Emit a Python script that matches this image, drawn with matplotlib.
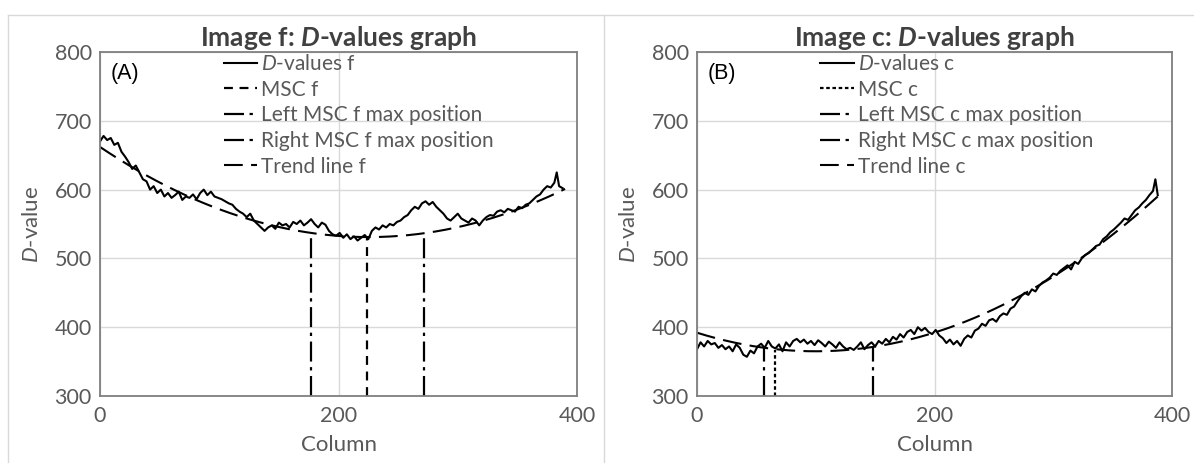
"""Two-panel D-values graph (image f and image c)."""

import matplotlib

matplotlib.use("Agg")
import matplotlib.pyplot as plt
import numpy as np
from matplotlib.lines import Line2D

# ---------------------------------------------------------------- data
# Panel A: image f
cols_f = np.r_[np.arange(0, 382, 3), 383, 385, 388]
dvals_f = [
    670, 678, 672, 675, 665, 668, 655, 648, 640, 630,
    635, 625, 615, 612, 600, 605, 595, 600, 590, 595,
    588, 592, 597, 585, 590, 588, 593, 586, 595, 600,
    592, 597, 590, 588, 586, 583, 580, 578, 572, 568,
    565, 560, 565, 555, 550, 545, 540, 545, 548, 543,
    552, 548, 550, 545, 553, 550, 555, 548, 552, 557,
    550, 545, 552, 549, 540, 535, 533, 537, 530, 535,
    528, 532, 526, 530, 534, 528, 540, 545, 542, 548,
    545, 550, 548, 553, 555, 560, 563, 570, 575, 572,
    580, 583, 578, 582, 575, 570, 565, 558, 555, 560,
    565, 558, 555, 552, 558, 555, 548, 555, 560, 563,
    562, 568, 570, 567, 572, 570, 568, 575, 573, 578,
    580, 585, 590, 593, 600, 605, 603, 610,
    625, 605, 602,
]
# trend line f, read at three columns (start, minimum, end)
trend_cols_f = [0, 225, 390]
trend_vals_f = [662, 531, 601]
msc_f = (224, 531)
left_msc_f = (177, 537)
right_msc_f = (272, 537)

# Panel B: image c
cols_c = np.r_[np.arange(0, 385, 3), 386, 388]
dvals_c = [
    368, 378, 372, 380, 375, 377, 370, 374, 368, 372,
    365, 375, 370, 360, 357, 366, 362, 372, 376, 370,
    380, 372, 369, 375, 365, 378, 372, 380, 383, 378,
    382, 376, 380, 374, 381, 377, 372, 379, 375, 370,
    378, 372, 368, 370, 367, 372, 378, 368, 374, 378,
    372, 380, 376, 383, 378, 386, 382, 390, 385, 393,
    396, 390, 400, 395, 399, 393, 390, 396, 388, 384,
    377, 382, 375, 380, 373, 383, 388, 385, 395, 398,
    405, 402, 410, 412, 408, 416, 420, 418, 427, 430,
    438, 445, 450, 447, 455, 452, 460, 465, 468, 472,
    478, 476, 482, 486, 490, 484, 495, 492, 500, 505,
    508, 513, 518, 520, 528, 532, 538, 542, 547, 552,
    558, 556, 563, 570, 574, 580, 585, 592, 598,
    615, 592,
]
trend_cols_c = [0, 100, 388]
trend_vals_c = [392, 365, 590]
msc_c = (66, 367)
left_msc_c = (56, 371)
right_msc_c = (148, 371)

x_ticks = [0, 200, 400]
y_ticks = [300, 400, 500, 600, 700, 800]

# ---------------------------------------------------------------- style
FONT = "Lato"
plt.rcParams["font.family"] = [FONT, "DejaVu Sans"]
plt.rcParams["mathtext.fontset"] = "custom"
plt.rcParams["mathtext.rm"] = FONT
plt.rcParams["mathtext.it"] = f"{FONT}:italic"
plt.rcParams["mathtext.bf"] = f"{FONT}:bold"
plt.rcParams["mathtext.bfit"] = f"{FONT}:italic:bold"

TXT = "#595959"
TITLE = "#404040"
GRID = "#d9d9d9"
SPINE = "#7f7f7f"

LONG_DASH = (9, 4)
DASH_DOT = (9, 2.5, 1.5, 2.5)


def panel(fig, rect, cols, dvals, trend_c, trend_v, msc, left, right, tag,
          letter, msc_dash):
    ax = fig.add_axes(rect)
    cols = np.asarray(cols)
    dvals = np.asarray(dvals)

    ax.plot(cols, dvals, color="black", lw=1.5, label=r"$\it{D}$-values " + tag)
    ax.plot([msc[0], msc[0]], [300, msc[1]], color="black", lw=1.6,
            dashes=msc_dash, label=f"MSC {tag}")
    ax.plot([left[0], left[0]], [300, left[1]], color="black", lw=1.6,
            dashes=DASH_DOT, label=f"Left MSC {tag} max position")
    ax.plot([right[0], right[0]], [300, right[1]], color="black", lw=1.6,
            dashes=DASH_DOT, label=f"Right MSC {tag} max position")

    # second-order trend line through the read points
    coef = np.polyfit(trend_c, trend_v, 2)
    xt = np.linspace(trend_c[0], trend_c[-1], 200)
    ax.plot(xt, np.polyval(coef, xt), color="black", lw=1.5, dashes=LONG_DASH,
            label=f"Trend line {tag}")

    ax.set_xlim(0, 400)
    ax.set_ylim(300, 800)
    ax.set_xticks(x_ticks)
    ax.set_yticks(y_ticks)
    ax.grid(True, color=GRID, lw=1.0)
    ax.set_axisbelow(True)
    for s in ax.spines.values():
        s.set_color(SPINE)
        s.set_linewidth(1.3)
    ax.tick_params(length=0, labelsize=15.5, colors=TXT)
    ax.tick_params(axis="x", pad=7)
    ax.tick_params(axis="y", pad=6)

    ax.set_xlabel("Column", fontsize=16, color=TXT, labelpad=7)
    ax.set_ylabel(r"$\it{D}$-value", fontsize=16, color=TXT, labelpad=9)
    ax.set_title(f"Image {tag}: " + r"$\mathbfit{D}$-values graph",
                 fontsize=19, fontweight="bold", color=TITLE, pad=4)

    ax.text(0.022, 0.968, f"({letter})", transform=ax.transAxes, ha="left",
            va="top", fontsize=15.5, family="Liberation Sans", color="black")

    leg = ax.legend(loc="upper left", bbox_to_anchor=(0.255, 1.0),
                    frameon=False, fontsize=15, handlelength=1.6,
                    handletextpad=0.2, labelspacing=0.27, borderpad=0.1,
                    borderaxespad=0)
    for t in leg.get_texts():
        t.set_color(TXT)
    return ax


fig = plt.figure(figsize=(11.94, 4.63), dpi=100)

# chart-area borders
W, H = 1194, 463
fig.add_artist(Line2D([8 / W, 1], [1 - 15 / H, 1 - 15 / H], color=GRID, lw=1))
fig.add_artist(Line2D([8 / W, 8 / W], [0, 1 - 15 / H], color=GRID, lw=1))
fig.add_artist(Line2D([604 / W, 604 / W], [0, 1 - 15 / H], color=GRID, lw=1))

panel(fig, [100 / W, 67 / H, 477 / W, 344 / H], cols_f, dvals_f,
      trend_cols_f, trend_vals_f, msc_f, left_msc_f, right_msc_f, "f", "A",
      (4, 3))
panel(fig, [697 / W, 67 / H, 475 / W, 344 / H], cols_c, dvals_c,
      trend_cols_c, trend_vals_c, msc_c, left_msc_c, right_msc_c, "c", "B",
      (1.6, 1.2))

fig.savefig("out.png", dpi=100)
